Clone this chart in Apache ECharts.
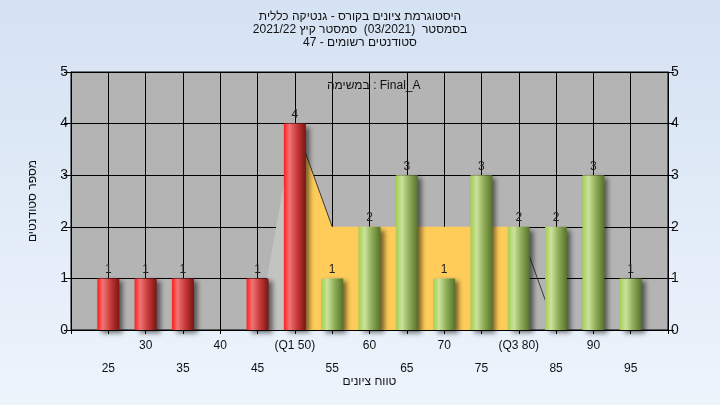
<!DOCTYPE html>
<html>
<head>
<meta charset="utf-8">
<script src="https://cdn.jsdelivr.net/npm/echarts@6/dist/echarts.min.js"></script>
<style>
html,body{margin:0;padding:0;}
#chart{width:720px;height:405px;}
</style>
</head>
<body>
<div id="chart"></div>
<script>
// ---- data ----
const titleLines = [
  'היסטוגרמת ציונים בקורס - גנטיקה כללית',
  'בסמסטר  (03/2021)  סמסטר קיץ 2021/22',
  'סטודנטים רשומים - 47'
];
const legendText = 'במשימה : Final_A';
const xAxisTitle = 'טווח ציונים';
const yAxisTitle = 'מספר סטודנטים';

const tickValues = [20,25,30,35,40,45,50,55,60,65,70,75,80,85,90,95,100];
const tickLabels = ['','25','30','35','40','45','(Q1 50)','55','60','65','70','75','(Q3 80)','85','90','95',''];

const failX = [25,30,35,45,50];
const failY = [1,1,1,1,4];
const passX = [55,60,65,70,75,80,85,90,95];
const passY = [1,2,3,1,3,2,2,3,1];

const iqrX = [50,55,60,65,70,75,80];
const iqrY = [4,2,2,2,2,2,2];
const leftTailX = [45,50];
const leftTailY = [0,4];
const rightTailX = [80,85];
const rightTailY = [2,0];

// ---- helpers ----
const FONT = '"Liberation Sans", Arial, "DejaVu Sans", sans-serif';
const pair = (xs, ys) => xs.map((x, i) => [x, ys[i]]);

const chart = echarts.init(document.getElementById('chart'), null, {renderer: 'canvas'});

const redGrad = new echarts.graphic.LinearGradient(0,0,1,0,[
  {offset:0,color:'#ff1c1c'},{offset:0.25,color:'#f27474'},
  {offset:0.6,color:'#c63a3a'},{offset:1,color:'#7c1414'}]);
const greenGrad = new echarts.graphic.LinearGradient(0,0,1,0,[
  {offset:0,color:'#a4ce50'},{offset:0.28,color:'#cbe29c'},
  {offset:0.62,color:'#8dab55'},{offset:1,color:'#55722a'}]);

const barData = pair(failX, failY).map(v => ({value: v, itemStyle: {color: redGrad}}))
  .concat(pair(passX, passY).map(v => ({value: v, itemStyle: {color: greenGrad}})));

const labelFor = v => {
  const idx = tickValues.indexOf(v);
  if (idx < 0) return '';
  const t = tickLabels[idx];
  return ((v / 5) % 2 === 1) ? '\n' + t : t;
};

const option = {
  animation: false,
  backgroundColor: new echarts.graphic.LinearGradient(0,0,0,1,[
    {offset:0,color:'#d5e2f3'},{offset:1,color:'#edf4fc'}]),
  textStyle: {fontFamily: FONT},
  title: {
    text: titleLines.join('\n'),
    left: 'center', top: 10, padding: 0,
    textStyle: {fontSize: 12, fontWeight: 'normal', color: '#111', lineHeight: 13, fontFamily: FONT}
  },
  graphic: [{
    type: 'text', left: 327, top: 80, z: 10,
    style: {text: legendText, fontSize: 12, fill: '#111', fontFamily: FONT}
  }],
  grid: {
    left: 71, right: 52, top: 72, bottom: 75,
    show: true, backgroundColor: '#b4b4b4', borderColor: '#000', borderWidth: 1
  },
  xAxis: {
    type: 'value', min: 20, max: 100, interval: 5,
    name: xAxisTitle, nameLocation: 'middle', nameGap: 46, nameMoveOverlap: false,
    nameTextStyle: {fontSize: 12, color: '#111', fontFamily: FONT},
    axisLine: {show: true, lineStyle: {color: '#000', width: 1}},
    axisTick: {show: true, length: 4, lineStyle: {color: '#000'}},
    axisLabel: {fontSize: 12, color: '#111', margin: 4, lineHeight: 23,
      showMinLabel: true, showMaxLabel: true, formatter: labelFor, fontFamily: FONT},
    splitLine: {show: true, lineStyle: {color: '#000', width: 1}}
  },
  yAxis: [{
    type: 'value', min: 0, max: 5, interval: 1, position: 'left',
    name: yAxisTitle, nameLocation: 'middle', nameGap: 32, nameRotate: 90, nameMoveOverlap: false,
    nameTextStyle: {fontSize: 12, color: '#111', fontFamily: FONT},
    axisLine: {show: true, lineStyle: {color: '#000'}},
    axisTick: {show: true, length: 7, lineStyle: {color: '#000'}},
    axisLabel: {fontSize: 14, color: '#111', margin: 3, fontFamily: FONT},
    splitLine: {show: true, lineStyle: {color: '#000', width: 1}}
  }, {
    type: 'value', min: 0, max: 5, interval: 1, position: 'right',
    axisLine: {show: true, lineStyle: {color: '#000'}},
    axisTick: {show: true, length: 6, lineStyle: {color: '#000'}},
    axisLabel: {fontSize: 14, color: '#111', margin: 3, fontFamily: FONT},
    splitLine: {show: false}
  }],
  series: [
    {
      type: 'line', data: pair(leftTailX, leftTailY), symbol: 'none', silent: true, z: 1,
      lineStyle: {width: 0, opacity: 0}, areaStyle: {color: '#c3c3c3', opacity: 1}
    },
    {
      type: 'line', data: pair(iqrX, iqrY), symbol: 'none', silent: true, z: 1,
      lineStyle: {width: 0, opacity: 0}, areaStyle: {color: '#ffcc5a', opacity: 1}
    },
    {
      type: 'line', data: pair(iqrX.slice(0,2), iqrY.slice(0,2)), symbol: 'none', silent: true, z: 2,
      lineStyle: {width: 1, color: '#3a3a3a'}
    },
    {
      type: 'line', data: pair(rightTailX, rightTailY), symbol: 'none', silent: true, z: 2,
      lineStyle: {width: 1, color: '#3a3a3a'}
    },
    {
      type: 'bar', data: barData, barWidth: 22, silent: true, z: 5,
      itemStyle: {shadowColor: 'rgba(0,0,0,0.55)', shadowBlur: 5, shadowOffsetX: 4, shadowOffsetY: 3},
      label: {show: true, position: 'top', distance: 3, fontSize: 12, color: '#222', fontFamily: FONT}
    }
  ]
};
chart.setOption(option);
</script>
</body>
</html>
